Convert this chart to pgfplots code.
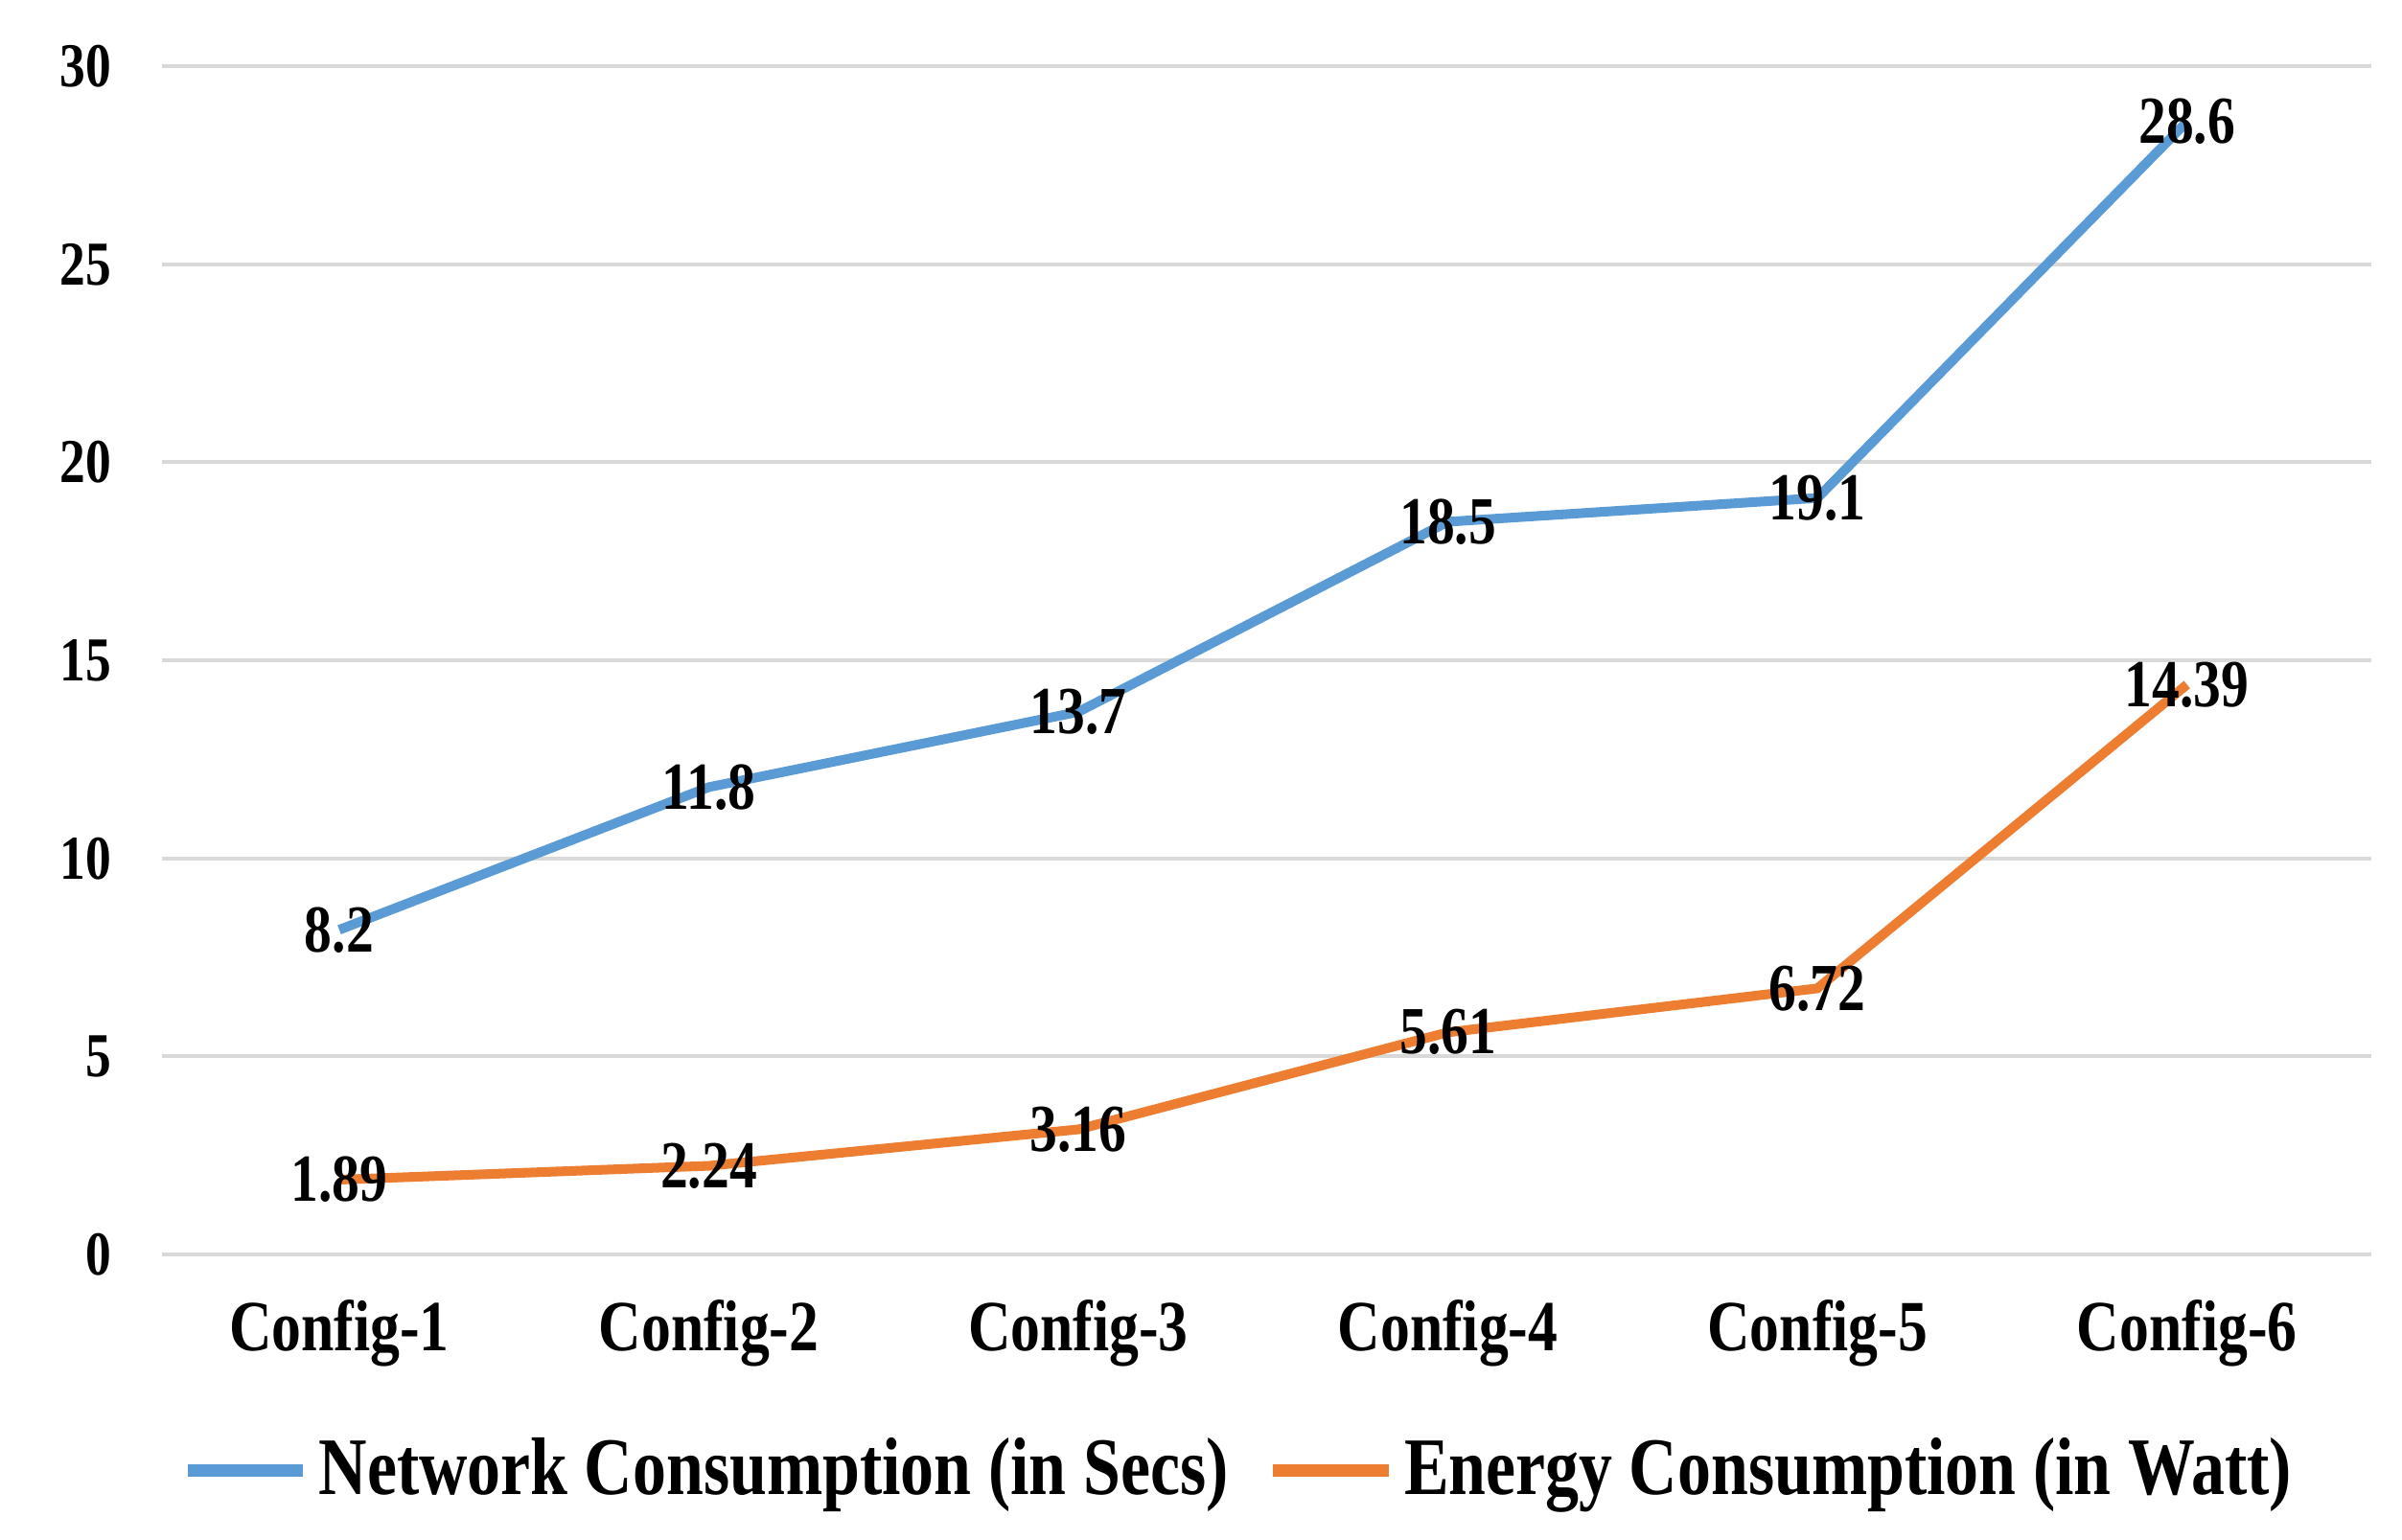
\documentclass[border=0pt]{standalone}
\usepackage{fontspec}
\setmainfont{Liberation Serif}[FakeStretch=0.82]
\usepackage{pgfplots}
\pgfplotsset{compat=1.18}
\definecolor{netblue}{HTML}{5B9BD5}
\definecolor{enorange}{HTML}{ED7D31}
\definecolor{gridgray}{HTML}{D9D9D9}
\begin{document}
\begin{tikzpicture}
\begin{axis}[
    scale only axis,
    width=460pt, height=247.4pt,
    xmin=-0.48, xmax=5.5,
    ymin=0, ymax=30,
    ytick={0,5,...,30},
    xtick={0,...,5},
    xticklabels={Config-1,Config-2,Config-3,Config-4,Config-5,Config-6},
    axis line style={draw=none},
    major tick length=0pt,
    ymajorgrids=true,
    grid style={gridgray, line width=0.8pt},
    /pgf/number format/assume math mode=true,
    yticklabel style={font=\fontsize{13}{15}\selectfont\bfseries, xshift=-7pt},
    xticklabel style={font=\fontsize{15}{17}\selectfont\bfseries, yshift=-6pt},
    nodes near coords,
    nodes near coords style={anchor=center, font=\fontsize{14}{16}\selectfont\bfseries, text=black},
    legend columns=2,
    legend style={at={(0.4885,-0.1815)}, anchor=center, draw=none,
        font=\fontsize{17}{19}\selectfont\bfseries,
        /tikz/every even column/.append style={column sep=6pt}},
    legend image code/.code={\draw[#1, line width=2.6pt] (0pt,0pt) -- (24pt,0pt);},
]
\addplot[netblue, line width=2pt] coordinates {
    (0,8.2)(1,11.8)(2,13.7)(3,18.5)(4,19.1)(5,28.6)
};
\addlegendentry{Network Consumption (in Secs)}
\addplot[enorange, line width=2pt] coordinates {
    (0,1.89)(1,2.24)(2,3.16)(3,5.61)(4,6.72)(5,14.39)
};
\addlegendentry{Energy Consumption (in Watt)}
\end{axis}
\path[use as bounding box] (-33.7pt,-59.3pt) rectangle (466.3pt,261.2pt);
\end{tikzpicture}
\end{document}
